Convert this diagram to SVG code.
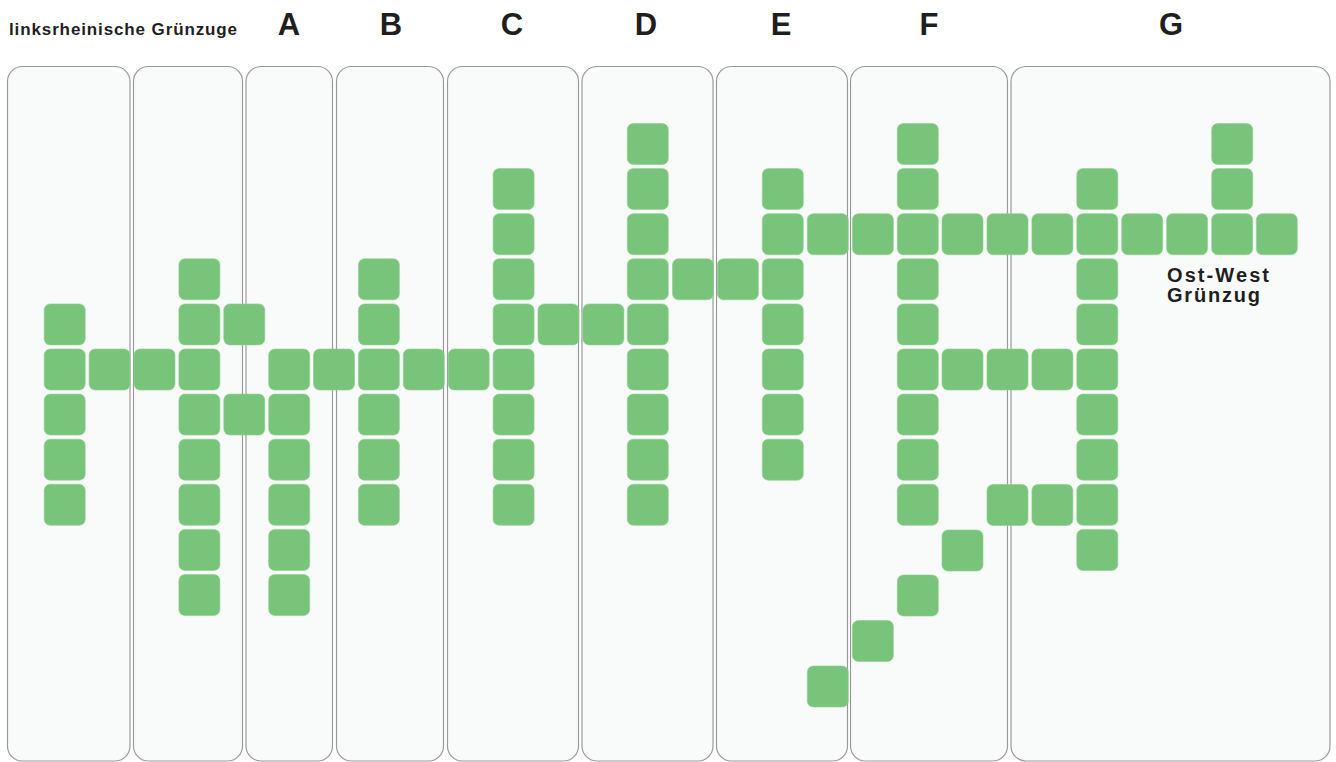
<svg xmlns="http://www.w3.org/2000/svg" width="1336" height="762" viewBox="0 0 1336 762">
  <style>
    .panel { fill: #f9fafa; stroke: #9a9a9a; stroke-width: 1.2; }
    .sq { fill: #79c47b; stroke: #8fd08f; stroke-width: 0.6; }
    .hdr { font-family: "Liberation Sans", Arial, sans-serif; font-weight: bold; fill: #1f1f1f; }
    .big { font-size: 31px; text-anchor: middle; }
  </style>
  <defs>
    <rect id="s" width="41" height="41" rx="6" ry="6"/>
  </defs>
  <rect width="1336" height="762" fill="#ffffff"/>

  <g id="panels">
    <rect id="panel-1" class="panel" x="7.5" y="66.5" width="122.5" height="694.5" rx="15"/>
    <rect id="panel-2" class="panel" x="133.5" y="66.5" width="109" height="694.5" rx="15"/>
    <rect id="panel-A" class="panel" x="246" y="66.5" width="86.5" height="694.5" rx="15"/>
    <rect id="panel-B" class="panel" x="336.5" y="66.5" width="107" height="694.5" rx="15"/>
    <rect id="panel-C" class="panel" x="447.5" y="66.5" width="131" height="694.5" rx="15"/>
    <rect id="panel-D" class="panel" x="582" y="66.5" width="131" height="694.5" rx="15"/>
    <rect id="panel-E" class="panel" x="716.5" y="66.5" width="131" height="694.5" rx="15"/>
    <rect id="panel-F" class="panel" x="850.5" y="66.5" width="157" height="694.5" rx="15"/>
    <rect id="panel-G" class="panel" x="1011" y="66.5" width="319" height="694.5" rx="15"/>
  </g>

  <g id="labels" class="hdr">
    <text x="9" y="35" font-size="17" textLength="228" lengthAdjust="spacing">linksrheinische Grünzuge</text>
    <text class="big" x="289" y="35">A</text>
    <text class="big" x="391" y="35">B</text>
    <text class="big" x="512" y="35">C</text>
    <text class="big" x="646" y="35">D</text>
    <text class="big" x="781" y="35">E</text>
    <text class="big" x="929" y="35">F</text>
    <text class="big" x="1171" y="35">G</text>
    <text x="1167" y="281.7" font-size="20" textLength="102" lengthAdjust="spacing">Ost-West</text>
    <text x="1167" y="301.7" font-size="20" textLength="93" lengthAdjust="spacing">Grünzug</text>
  </g>

  <g id="connectors"></g>

  <g id="col-0" class="sq">
    <use href="#s" x="44.2" y="303.9"/><use href="#s" x="44.2" y="349"/><use href="#s" x="44.2" y="394.1"/><use href="#s" x="44.2" y="439.2"/><use href="#s" x="44.2" y="484.3"/>
  </g>
  <g id="col-1" class="sq"><use href="#s" x="89.1" y="349"/></g>
  <g id="col-2" class="sq"><use href="#s" x="134" y="349"/></g>
  <g id="col-3" class="sq">
    <use href="#s" x="178.9" y="258.8"/><use href="#s" x="178.9" y="303.9"/><use href="#s" x="178.9" y="349"/><use href="#s" x="178.9" y="394.1"/><use href="#s" x="178.9" y="439.2"/><use href="#s" x="178.9" y="484.3"/><use href="#s" x="178.9" y="529.4"/><use href="#s" x="178.9" y="574.5"/>
  </g>
  <g id="col-4" class="sq"><use href="#s" x="223.8" y="303.9"/><use href="#s" x="223.8" y="394.1"/></g>
  <g id="col-5" class="sq">
    <use href="#s" x="268.7" y="349"/><use href="#s" x="268.7" y="394.1"/><use href="#s" x="268.7" y="439.2"/><use href="#s" x="268.7" y="484.3"/><use href="#s" x="268.7" y="529.4"/><use href="#s" x="268.7" y="574.5"/>
  </g>
  <g id="col-6" class="sq"><use href="#s" x="313.5" y="349"/></g>
  <g id="col-7" class="sq">
    <use href="#s" x="358.4" y="258.8"/><use href="#s" x="358.4" y="303.9"/><use href="#s" x="358.4" y="349"/><use href="#s" x="358.4" y="394.1"/><use href="#s" x="358.4" y="439.2"/><use href="#s" x="358.4" y="484.3"/>
  </g>
  <g id="col-8" class="sq"><use href="#s" x="403.3" y="349"/></g>
  <g id="col-9" class="sq"><use href="#s" x="448.2" y="349"/></g>
  <g id="col-10" class="sq">
    <use href="#s" x="493.1" y="168.6"/><use href="#s" x="493.1" y="213.7"/><use href="#s" x="493.1" y="258.8"/><use href="#s" x="493.1" y="303.9"/><use href="#s" x="493.1" y="349"/><use href="#s" x="493.1" y="394.1"/><use href="#s" x="493.1" y="439.2"/><use href="#s" x="493.1" y="484.3"/>
  </g>
  <g id="col-11" class="sq"><use href="#s" x="538" y="303.9"/></g>
  <g id="col-12" class="sq"><use href="#s" x="582.9" y="303.9"/></g>
  <g id="col-13" class="sq">
    <use href="#s" x="627.3" y="123.5"/><use href="#s" x="627.3" y="168.6"/><use href="#s" x="627.3" y="213.7"/><use href="#s" x="627.3" y="258.8"/><use href="#s" x="627.3" y="303.9"/><use href="#s" x="627.3" y="349"/><use href="#s" x="627.3" y="394.1"/><use href="#s" x="627.3" y="439.2"/><use href="#s" x="627.3" y="484.3"/>
  </g>
  <g id="col-14" class="sq"><use href="#s" x="672.5" y="258.8"/></g>
  <g id="col-15" class="sq"><use href="#s" x="717.4" y="258.8"/></g>
  <g id="col-16" class="sq">
    <use href="#s" x="762.3" y="168.6"/><use href="#s" x="762.3" y="213.7"/><use href="#s" x="762.3" y="258.8"/><use href="#s" x="762.3" y="303.9"/><use href="#s" x="762.3" y="349"/><use href="#s" x="762.3" y="394.1"/><use href="#s" x="762.3" y="439.2"/>
  </g>
  <g id="col-17" class="sq"><use href="#s" x="807.3" y="213.7"/><use href="#s" x="807.3" y="666"/></g>
  <g id="col-18" class="sq"><use href="#s" x="852.4" y="213.7"/><use href="#s" x="852.4" y="620.5"/></g>
  <g id="col-19" class="sq">
    <use href="#s" x="897.3" y="123.5"/><use href="#s" x="897.3" y="168.6"/><use href="#s" x="897.3" y="213.7"/><use href="#s" x="897.3" y="258.8"/><use href="#s" x="897.3" y="303.9"/><use href="#s" x="897.3" y="349"/><use href="#s" x="897.3" y="394.1"/><use href="#s" x="897.3" y="439.2"/><use href="#s" x="897.3" y="484.3"/><use href="#s" x="897.3" y="575"/>
  </g>
  <g id="col-20" class="sq"><use href="#s" x="942" y="213.7"/><use href="#s" x="942" y="349"/><use href="#s" x="942" y="530"/></g>
  <g id="col-21" class="sq"><use href="#s" x="987" y="213.7"/><use href="#s" x="987" y="349"/><use href="#s" x="987" y="484.5"/></g>
  <g id="col-22" class="sq"><use href="#s" x="1031.9" y="213.7"/><use href="#s" x="1031.9" y="349"/><use href="#s" x="1031.9" y="484.5"/></g>
  <g id="col-23" class="sq">
    <use href="#s" x="1076.8" y="168.6"/><use href="#s" x="1076.8" y="213.7"/><use href="#s" x="1076.8" y="258.8"/><use href="#s" x="1076.8" y="303.9"/><use href="#s" x="1076.8" y="349"/><use href="#s" x="1076.8" y="394.1"/><use href="#s" x="1076.8" y="439.2"/><use href="#s" x="1076.8" y="484.3"/><use href="#s" x="1076.8" y="529.4"/>
  </g>
  <g id="col-24" class="sq"><use href="#s" x="1121.7" y="213.7"/></g>
  <g id="col-25" class="sq"><use href="#s" x="1166.6" y="213.7"/></g>
  <g id="col-26" class="sq"><use href="#s" x="1211.7" y="123.5"/><use href="#s" x="1211.7" y="168.6"/><use href="#s" x="1211.7" y="213.7"/></g>
  <g id="col-27" class="sq"><use href="#s" x="1256.3" y="213.7"/></g>
</svg>
